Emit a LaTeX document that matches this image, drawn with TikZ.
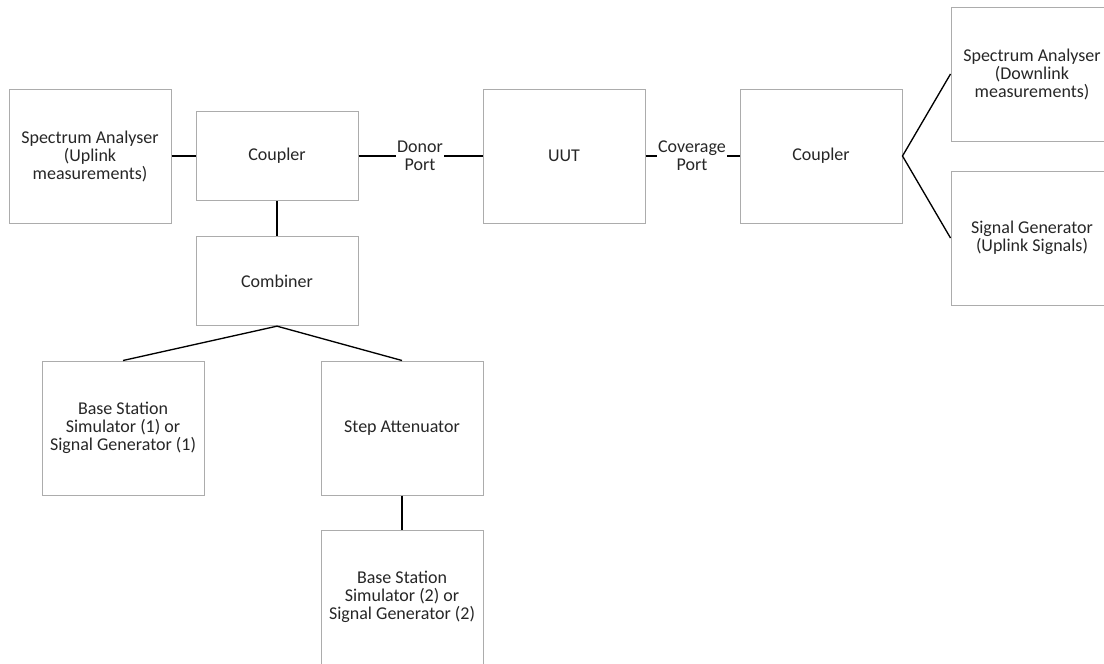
\documentclass[tikz,border=0pt]{standalone}
\usepackage{fontspec}
\setmainfont{Carlito}
\usetikzlibrary{positioning}
\tikzset{
  unit/.style={draw=gray!65, line width=0.75pt, minimum width=121.5pt,
    minimum height=100.5pt, inner sep=0pt, align=center, text=black!85},
  smallunit/.style={unit, minimum height=67pt},
  portlabel/.style={inner sep=1pt, align=center, text=black!85},
  link/.style={black, line width=1pt}
}
\begin{document}
\begin{tikzpicture}[x=0.75pt, y=-0.75pt, font={\fontsize{13.5}{13.5}\selectfont}]
\clip (0,0) rectangle (1104,664);
% ---------- uplink side ----------
\node[unit] (saul) at (90,156) {Spectrum Analyser\\(Uplink\\measurements)};
\node[smallunit] (cpla) at (277,156) {Coupler};
\node[smallunit] (comb) at (277,281) {Combiner};
\node[unit] (bss1) at (123,428) {Base Station\\Simulator (1) or\\Signal Generator (1)};
\node[unit] (step) at (402,428) {Step Attenuator};
\node[unit] (bss2) at (402,597) {Base Station\\Simulator (2) or\\Signal Generator (2)};
% ---------- unit under test and downlink side ----------
\node[unit] (uut) at (564,156) {UUT};
\node[unit] (cplb) at (821,156) {Coupler};
\node[unit] (sadl) at (1032,74) {Spectrum Analyser\\(Downlink\\measurements)};
\node[unit] (sgen) at (1032,238) {Signal Generator\\(Uplink Signals)};
\node[portlabel] (donor) at (420,156) {Donor\\Port};
\node[portlabel] (cover) at (692,156) {Coverage\\Port};
% ---------- connections ----------
\draw[link] (saul.east) -- (cpla.west);
\draw[link] (cpla.east) -- (donor.west);
\draw[link] (donor.east) -- (uut.west);
\draw[link] (uut.east) -- (cover.west);
\draw[link] (cover.east) -- (cplb.west);
\draw[link] (cpla.south) -- (comb.north);
\draw[link] (bss1.north) -- (comb.south) -- (step.north);
\draw[link] (step.south) -- (bss2.north);
\draw[link] (sadl.west) -- (cplb.east) -- (sgen.west);
\end{tikzpicture}
\end{document}
